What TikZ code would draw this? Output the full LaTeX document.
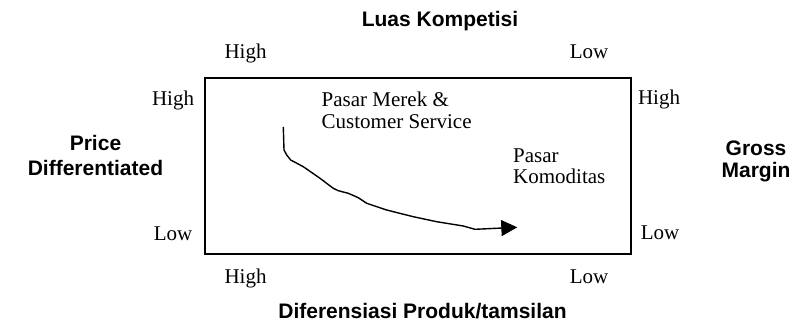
\documentclass[tikz,border=0pt]{standalone}
\usepackage{fontspec}
\setmainfont{Liberation Serif}
\newfontfamily\arialb{Liberation Sans}
\usetikzlibrary{arrows.meta}
\newcommand{\ctwo}[2]{\vtop{\halign{\hfil##\hfil\cr #1\cr #2\cr}}}
\newcommand{\ltwo}[2]{\vtop{\halign{##\hfil\cr #1\cr #2\cr}}}
\tikzset{
  lbl/.style={font=\fontsize{21}{22}\selectfont, inner sep=0pt, anchor=base},
  lblw/.style={font=\fontsize{21}{21}\selectfont, inner sep=0pt, anchor=base west},
  ttl/.style={font=\arialb\bfseries\fontsize{21}{25}\selectfont, inner sep=0pt, anchor=base},
  frame/.style={draw=black, line width=1.8pt},
  trend/.style={draw=black, line width=1.4pt, line join=round, line cap=round,
    -{Triangle[length=16pt,width=16pt]}}
}
\begin{document}
\begin{tikzpicture}[x=1pt,y=-1pt]
\useasboundingbox (0,0) rectangle (802,325);
% frame
\node[frame, minimum width=426pt, minimum height=176pt, inner sep=0pt, anchor=north west] (box) at (204,77) {};
% top
\node[ttl] (luas) at (440,26) {Luas Kompetisi};
\node[lbl] (tHigh) at (245.5,58) {High};
\node[lbl] (tLow) at (589,58) {Low};
% bottom
\node[lbl] (bHigh) at (245.5,283) {High};
\node[lbl] (bLow) at (589,283) {Low};
\node[ttl] (dif) at (422.5,318) {Diferensiasi Produk/tamsilan};
% left
\node[lbl] (lHigh) at (173,105) {High};
\node[lbl] (lLow) at (173,240) {Low};
\node[ttl] (price) at (95.5,150) {\ctwo{Price}{Differentiated}};
% right
\node[lbl] (rHigh) at (659,104) {High};
\node[lbl] (rLow) at (660,239) {Low};
\node[ttl, font=\arialb\bfseries\fontsize{21}{22}\selectfont] (gross) at (756,155) {\ctwo{Gross}{Margin}};
% inside
\node[lblw, font=\fontsize{21}{22}\selectfont] (merek) at (321.5,106) {\ltwo{Pasar Merek \&}{Customer Service}};
\node[lblw] (komod) at (513,162.5) {\ltwo{Pasar}{Komoditas}};
% trend curve
\coordinate (cs) at (283.3,127.3);
\coordinate (ce) at (517.3,227.3);
\draw[trend] (cs) -- (284,150) -- (286.7,155) -- (290.7,160) -- (303.3,166.7)
  -- (320,178.3) -- (333.3,188.3) -- (338.3,190.7) -- (348.3,193.3) -- (358.3,197.7)
  -- (366.7,203.3) -- (386.7,210) -- (413.3,216.7) -- (436.7,221.7) -- (463.3,226)
  -- (475,229.3) -- (ce);
\end{tikzpicture}
\end{document}
